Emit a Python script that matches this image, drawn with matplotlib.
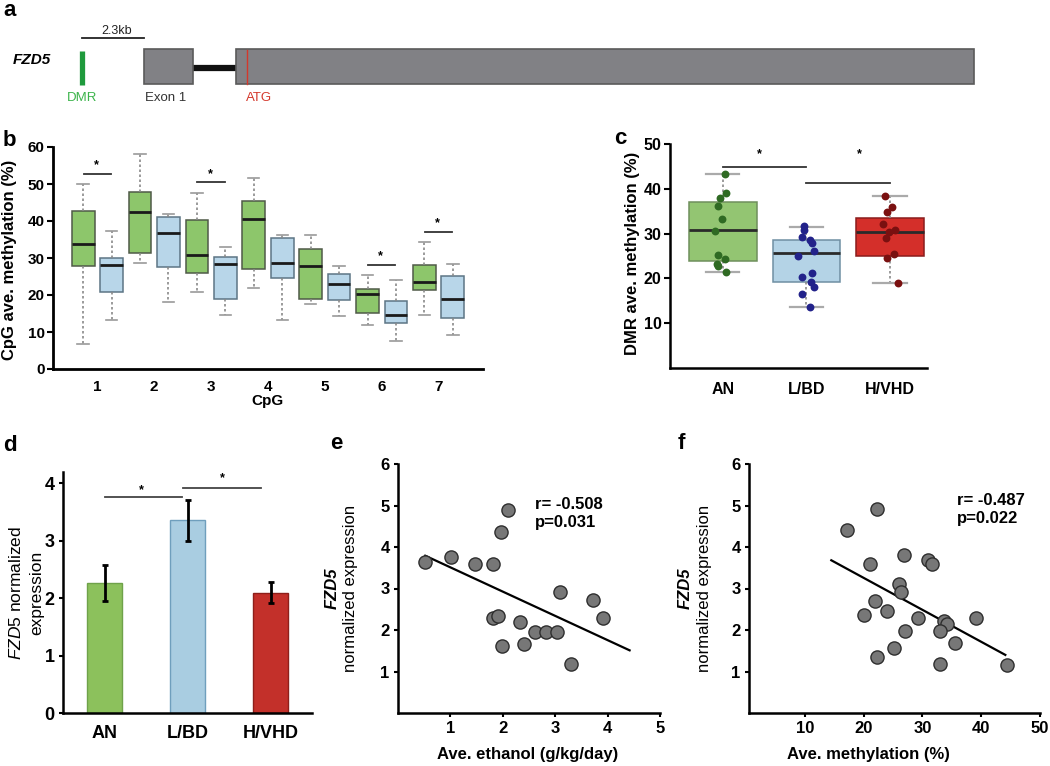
import matplotlib
matplotlib.use('Agg')
import matplotlib.pyplot as plt
from matplotlib.patches import Rectangle
import numpy as np

plt.rcParams['font.family'] = ['Liberation Sans', 'DejaVu Sans']
plt.rcParams['mathtext.fontset'] = 'custom'
plt.rcParams['mathtext.it'] = 'Liberation Sans:italic'
plt.rcParams['mathtext.rm'] = 'Liberation Sans'

# ---- panel a: gene model (positions in kb, DMR at 0)
scale_kb = 2.3
dmr_kb = 0.0
exon1_kb = (2.28, 4.10)
exon2_kb = (5.69, 33.07)
atg_kb = 6.10

# ---- panel b: CpG boxplots (whislo, q1, med, q3, whishi)
cpg = [1, 2, 3, 4, 5, 6, 7]
b_green = [(6.8, 27.9, 33.7, 42.8, 50.1), (28.6, 31.3, 42.3, 47.8, 58.0),
           (20.8, 25.9, 30.9, 40.4, 47.6), (22.0, 27.0, 40.6, 45.5, 51.7),
           (17.5, 18.8, 27.8, 32.5, 36.3), (11.8, 15.2, 20.4, 21.5, 25.5),
           (14.6, 21.4, 23.5, 28.2, 34.2)]
b_blue = [(13.2, 20.8, 28.1, 30.1, 37.4), (18.2, 27.7, 36.7, 41.2, 41.9),
          (14.7, 19.0, 28.4, 30.2, 33.1), (13.3, 24.7, 28.6, 35.5, 36.3),
          (14.3, 18.6, 23.1, 25.8, 27.9), (7.5, 12.3, 14.7, 18.3, 24.0),
          (9.3, 13.7, 18.9, 25.1, 28.4)]
b_sig_cpg = [1, 3, 6, 7]
b_sig_y = [52.8, 50.5, 28.2, 37.1]

# ---- panel c: DMR methylation
groups = ['AN', 'L/BD', 'H/VHD']
c_stats = [(21.5, 23.8, 30.7, 37.1, 43.3), (13.7, 19.2, 25.6, 28.5, 31.5),
           (18.9, 25.0, 30.3, 33.4, 38.3)]
c_an = [43.3, 39.0, 38.0, 36.1, 33.2, 30.5, 25.3, 24.4, 23.3, 22.7, 21.5]
c_an_dx = [0.024, 0.044, -0.028, -0.06, -0.004, -0.096, -0.052, 0.032, -0.068, -0.052, 0.036]
c_lbd = [31.6, 30.8, 29.2, 28.6, 27.8, 26.1, 25.0, 21.3, 20.4, 19.1, 18.0, 16.5, 13.7]
c_lbd_dx = [-0.024, -0.024, -0.056, 0.04, 0.064, 0.088, -0.096, 0.064, -0.048, 0.06, 0.088, -0.052, 0.04]
c_hvhd = [38.3, 36.0, 34.8, 32.1, 30.8, 30.3, 29.1, 25.5, 24.5, 18.9]
c_hvhd_dx = [-0.064, 0.024, -0.032, -0.08, 0.052, -0.016, -0.048, 0.044, -0.036, 0.088]
c_sig_y = [44.8, 41.2]
c_star_x = [0.44, 1.63]
c_star_y = 47.8

# ---- panel d: expression bars
d_vals = [2.27, 3.36, 2.10]
d_err = [0.31, 0.355, 0.175]
d_sig_x = [(0.0, 0.93), (0.95, 1.89)]
d_sig_y = [3.76, 3.92]
d_star_x = [0.45, 1.42]
d_star_y = [3.88, 4.09]

# ---- panel e: expression vs ethanol
e_x = [0.52, 1.01, 1.46, 1.82, 1.96, 2.10, 1.82, 1.91, 2.32, 1.99, 2.40, 2.61, 2.82, 3.03, 3.09, 3.31, 3.72, 3.92]
e_y = [3.65, 3.77, 3.60, 3.58, 4.36, 4.89, 2.29, 2.33, 2.20, 1.61, 1.67, 1.96, 1.96, 1.96, 2.91, 1.19, 2.73, 2.29]
e_fit_x = [0.52, 4.42]
e_fit_y = [3.79, 1.51]

# ---- panel f: expression vs methylation
f_x = [17.2, 22.2, 21.1, 26.9, 30.9, 31.7, 26.1, 26.3, 21.9, 20.0, 24.0, 29.3, 33.7, 34.1, 33.0, 27.0, 35.6, 39.1, 25.1, 22.3, 33.0, 44.4]
f_y = [4.40, 4.92, 3.60, 3.80, 3.69, 3.60, 3.11, 2.91, 2.70, 2.35, 2.45, 2.29, 2.21, 2.15, 1.97, 1.97, 1.68, 2.29, 1.57, 1.35, 1.19, 1.16]
f_fit_x = [14.5, 44.1]
f_fit_y = [3.68, 1.40]

W, H = 1050, 766
fig = plt.figure(figsize=(W / 100, H / 100), dpi=100)


def px_axes(l, t, r, b):
    return fig.add_axes([l / W, 1 - b / H, (r - l) / W, (b - t) / H])


def ftext(x, y, s, **kw):
    return fig.text(x / W, 1 - y / H, s, **kw)


def style(ax, lw=1.8):
    for s in ['top', 'right']:
        ax.spines[s].set_visible(False)
    for s in ['left', 'bottom']:
        ax.spines[s].set_linewidth(lw)


def bold_ticks(ax, size):
    for lbl in ax.get_xticklabels() + ax.get_yticklabels():
        lbl.set_fontweight('bold')
        lbl.set_fontsize(size)


def stats(rows):
    return [dict(whislo=a, q1=b, med=c, q3=d, whishi=e, fliers=[]) for a, b, c, d, e in rows]


# panel labels
for lab, x, y in [('a', 3, 16), ('b', 3, 146), ('c', 614, 144), ('d', 3, 451), ('e', 330, 449), ('f', 678, 449)]:
    ftext(x, y, lab, fontsize=16, fontweight='bold', va='baseline')

# ---------------- a
ax = fig.add_axes([0, 1 - 120 / H, 1, 120 / H])
ax.set_xlim(-3.06, 35.89)
ax.set_ylim(120, 0)
ax.axis('off')
ax.plot([dmr_kb, dmr_kb + scale_kb], [38, 38], color='#222222', lw=1.3)
ax.text(dmr_kb + scale_kb / 2 + 0.1, 31, '2.3kb', ha='center', va='center', fontsize=9, color='#222222')
ax.plot([dmr_kb, dmr_kb], [51, 85], color='#1f9a3c', lw=3.8, solid_capstyle='butt')
ax.text(dmr_kb, 98, 'DMR', ha='center', va='center', fontsize=9.5, color='#3cb44b')
ax.plot([exon1_kb[1], exon2_kb[0]], [67.5, 67.5], color='#111111', lw=4.5, solid_capstyle='butt', zorder=1)
for s, e in [exon1_kb, exon2_kb]:
    ax.add_patch(Rectangle((s, 49), e - s, 35, facecolor='#818185', edgecolor='#5a5a5a', lw=1.2, zorder=2))
ax.plot([atg_kb, atg_kb], [49.5, 83.5], color='#d4382c', lw=1.0, zorder=3)
ax.text(exon1_kb[0] + 0.05, 98, 'Exon 1', ha='left', va='center', fontsize=9.5, color='#333333')
ax.text(atg_kb - 0.02, 98, 'ATG', ha='left', va='center', fontsize=9.5, color='#d4382c')
ax.text(-2.58, 60, 'FZD5', ha='left', va='center', fontsize=11, fontweight='bold', fontstyle='italic')

# ---------------- b
ax = px_axes(53, 147, 483, 369)
pos = np.array(cpg, dtype=float)
for rows, off, fc, ec in [(b_green, -0.25, '#8dc66b', '#4f5a48'), (b_blue, 0.25, '#b8d6e9', '#5d7585')]:
    ax.bxp(stats(rows), positions=pos + off, widths=0.4, patch_artist=True, showfliers=False,
           manage_ticks=False,
           boxprops=dict(facecolor=fc, edgecolor=ec, lw=1.1),
           medianprops=dict(color='#1a1a1a', lw=2.0),
           whiskerprops=dict(color='#8a8a8a', lw=1.2, ls=(0, (1.5, 1.5))),
           capprops=dict(color='#9a9a9a', lw=1.2), capwidths=0.2)
for c, y in zip(b_sig_cpg, b_sig_y):
    ax.plot([c - 0.24, c + 0.24], [y, y], color='#333333', lw=1.3)
    ax.text(c - 0.02, y + 2.2, '*', ha='center', va='center', fontsize=9, fontweight='bold')
ax.set_xlim(0.22, 7.78)
ax.set_ylim(0, 60)
ax.set_xticks(cpg)
ax.set_xticklabels([str(c) for c in cpg])
ax.set_yticks(range(0, 61, 10))
style(ax, 2.0)
ax.tick_params(axis='x', length=0, pad=8)
ax.tick_params(axis='y', length=4, width=1.5, pad=2)
bold_ticks(ax, 11)
ftext(10, 260, 'CpG ave. methylation (%)', rotation=90, ha='center', va='center', fontsize=12, fontweight='bold')
ftext(268, 401, 'CpG', ha='center', va='center', fontsize=11, fontweight='bold')

# ---------------- c
ax = px_axes(670, 144, 927, 368)
cx = np.arange(3)
fills = ['#93c572', '#b4d3e6', '#d42f2a']
edges = ['#6f8f5c', '#6f8fa3', '#8a1c1c']
dots = ['#2f6a23', '#22228a', '#7a1010']
bp = ax.bxp(stats(c_stats), positions=cx, widths=0.81, patch_artist=True, showfliers=False,
            manage_ticks=False,
            medianprops=dict(color='#2a2a2a', lw=2.0),
            whiskerprops=dict(color='#8a8a8a', lw=1.2, ls=(0, (1.5, 1.5))),
            capprops=dict(color='#aaaaaa', lw=1.6), capwidths=0.4)
for patch, fc, ec in zip(bp['boxes'], fills, edges):
    patch.set_facecolor(fc)
    patch.set_edgecolor(ec)
    patch.set_linewidth(1.1)
for i, (vals, dx) in enumerate([(c_an, c_an_dx), (c_lbd, c_lbd_dx), (c_hvhd, c_hvhd_dx)]):
    ax.scatter(i + np.array(dx), vals, s=32, color=dots[i], zorder=4, lw=0)
for i, y in enumerate(c_sig_y):
    ax.plot([i, i + 1], [y, y], color='#333333', lw=1.3)
for x in c_star_x:
    ax.text(x, c_star_y, '*', ha='center', va='center', fontsize=9, fontweight='bold')
ax.set_xlim(-0.63, 2.44)
ax.set_ylim(0, 50)
ax.set_xticks(cx)
ax.set_xticklabels(groups)
ax.set_yticks(range(10, 51, 10))
style(ax, 1.8)
ax.tick_params(axis='x', length=0, pad=10)
ax.tick_params(axis='y', length=4, width=1.5, pad=2)
bold_ticks(ax, 11.5)
ftext(633, 253, 'DMR ave. methylation (%)', rotation=90, ha='center', va='center', fontsize=12, fontweight='bold')

# ---------------- d
ax = px_axes(63, 472, 312, 713)
dx = np.arange(3)
ax.bar(dx, d_vals, 0.42, color=['#8cc15c', '#a9cde1', '#c3302a'],
       edgecolor=['#6fa24a', '#6f9fbd', '#8e1f1a'], lw=1.0,
       yerr=d_err, error_kw=dict(ecolor='black', elinewidth=2.0, capsize=2, capthick=2))
for (x0, x1), y in zip(d_sig_x, d_sig_y):
    ax.plot([x0, x1], [y, y], color='#444444', lw=1.3)
for x, y in zip(d_star_x, d_star_y):
    ax.text(x, y, '*', ha='center', va='center', fontsize=9, fontweight='bold')
ax.set_xlim(-0.5, 2.5)
ax.set_ylim(0, 4.2)
ax.set_xticks(dx)
ax.set_xticklabels(groups)
ax.set_yticks(range(0, 5))
style(ax, 1.8)
ax.tick_params(axis='x', length=0, pad=9)
ax.tick_params(axis='y', length=3, width=1.5, pad=3)
bold_ticks(ax, 13)
ftext(16, 593, '$\\it{FZD5}$ normalized', rotation=90, ha='center', va='center', fontsize=12.5)
ftext(37, 593, 'expression', rotation=90, ha='center', va='center', fontsize=12.5)

# ---------------- e / f
for (l, r, xs, ys, fx, fy, xlim, xticks, xlab, xlab_x, txt, tx, ty, ylx) in [
        (398, 660, e_x, e_y, e_fit_x, e_fit_y, (0, 5), [1, 2, 3, 4, 5], 'Ave. ethanol (g/kg/day)', 528,
         'r= -0.508\np=0.031', 535, 497, 342),
        (749, 1040, f_x, f_y, f_fit_x, f_fit_y, (0.5, 50), [10, 20, 30, 40, 50], 'Ave. methylation (%)', 868,
         'r= -0.487\np=0.022', 957, 493, 695)]:
    ax = px_axes(l, 464, r, 713)
    ax.plot(fx, fy, color='black', lw=1.6, zorder=2)
    ax.scatter(xs, ys, s=90, facecolor='#777777', edgecolor='#2e2e2e', lw=1.0, zorder=3)
    ax.set_xlim(*xlim)
    ax.set_ylim(0, 6)
    ax.set_xticks(xticks)
    ax.set_yticks(range(1, 7))
    style(ax, 1.8)
    ax.tick_params(length=3, width=1.5, pad=3)
    bold_ticks(ax, 12)
    ftext(tx, ty, txt, ha='left', va='top', fontsize=12, fontweight='bold', linespacing=1.25)
    ftext(xlab_x, 755, xlab, ha='center', va='center', fontsize=12, fontweight='bold')
    ftext(ylx - 10, 588, 'FZD5', rotation=90, ha='center', va='center', fontsize=12,
          fontweight='bold', fontstyle='italic')
    ftext(ylx + 9, 588, 'normalized expression', rotation=90, ha='center', va='center', fontsize=12)

fig.savefig('out.png', dpi=100)
